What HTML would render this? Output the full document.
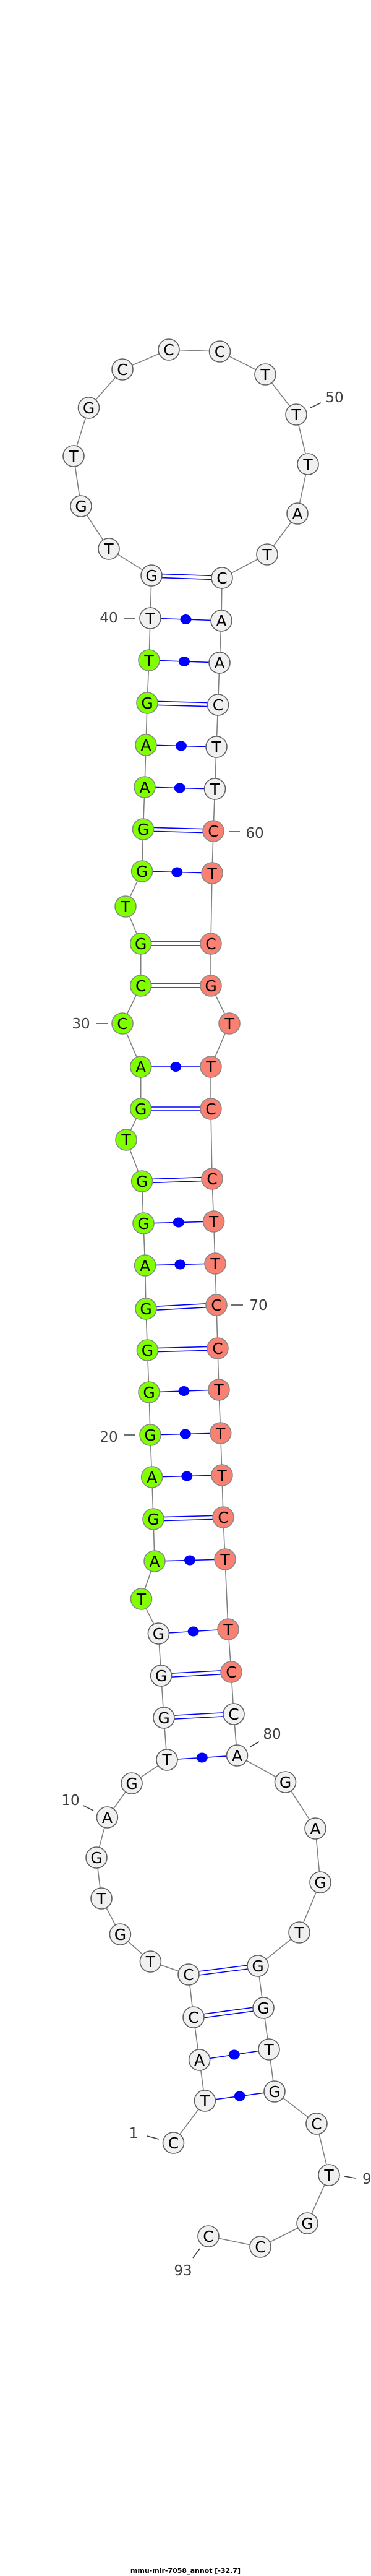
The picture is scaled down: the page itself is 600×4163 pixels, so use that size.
<!DOCTYPE html>
<html><head><meta charset="utf-8"><style>
html,body{margin:0;padding:0;background:#fff;}
svg{display:block;}
.bb{fill:none;stroke:#808080;stroke-width:1.6;}
.w{fill:#f0f0f0;stroke:#606060;stroke-width:1.6;}
.g{fill:#7fff00;stroke:#888;stroke-width:1.6;}
.r{fill:#fa8072;stroke:#888;stroke-width:1.6;}
.p{stroke:#0000ff;stroke-width:1.6;}
.d{fill:#0000ff;}
.n{font-family:"DejaVu Sans","Liberation Sans",sans-serif;font-size:25px;text-anchor:middle;fill:#000;}
.l{font-family:"DejaVu Sans","Liberation Sans",sans-serif;font-size:23px;text-anchor:middle;fill:#404040;}
.t{stroke:#404040;stroke-width:1.6;}
</style></head><body>
<svg width="600" height="4163" viewBox="0 0 600 4163" xmlns="http://www.w3.org/2000/svg">
<polyline class="bb" points="280.5,3463 331.4,3395 322.6,3329 313,3260 305,3191 243.4,3170 194.4,3126 164,3068 156,3002 173.4,2937 213,2882 270,2844 265,2776 260.6,2708 256.4,2640 228.5,2584 250,2523 248,2455 245.7,2387 243,2319 241,2250 238.4,2182 236,2115 234.6,2045 232,1977 229.6,1909 204,1842 227.7,1792 227.7,1724 198,1654 227.7,1593 227.7,1525 203,1465 229.6,1408 231.5,1340 234,1272 236,1204 238,1136 241,1067 243,999 245,930 176,887 131,818 119,737 143.5,659 198,597 273,565 355.5,568 429,605 479,670 498,750 481,830 432,896 359,934 358,1003 355,1071 352.5,1139 350,1207 347.5,1275 345,1343 343,1411 341,1525 341,1593 371,1654 341,1724 341,1792 343,1905 345.6,1974 348,2042 350,2109 352,2179 354,2246 356.7,2316 359,2384 361,2452 364,2520 369,2633 374,2702 378,2770 383.5,2837 461.5,2880 510,2955 518,3042 484,3123 417,3177 426,3245 435,3312 444,3380 512,3432 532,3515 497,3593 421,3631 337,3614"/>
<g class="p">
<line x1="313" y1="3257" x2="426" y2="3242"/><line x1="313" y1="3263" x2="426" y2="3248"/>
<line x1="305" y1="3188" x2="417" y2="3174"/><line x1="305" y1="3194" x2="417" y2="3180"/>
<line x1="265" y1="2773" x2="378" y2="2767"/><line x1="265" y1="2779" x2="378" y2="2773"/>
<line x1="260.6" y1="2705" x2="374" y2="2699"/><line x1="260.6" y1="2711" x2="374" y2="2705"/>
<line x1="248" y1="2452" x2="361" y2="2449"/><line x1="248" y1="2458" x2="361" y2="2455"/>
<line x1="238.4" y1="2179" x2="352" y2="2176"/><line x1="238.4" y1="2185" x2="352" y2="2182"/>
<line x1="236" y1="2112" x2="350" y2="2106"/><line x1="236" y1="2118" x2="350" y2="2112"/>
<line x1="229.6" y1="1906" x2="343" y2="1902"/><line x1="229.6" y1="1912" x2="343" y2="1908"/>
<line x1="227.7" y1="1789" x2="341" y2="1789"/><line x1="227.7" y1="1795" x2="341" y2="1795"/>
<line x1="227.7" y1="1590" x2="341" y2="1590"/><line x1="227.7" y1="1596" x2="341" y2="1596"/>
<line x1="227.7" y1="1522" x2="341" y2="1522"/><line x1="227.7" y1="1528" x2="341" y2="1528"/>
<line x1="231.5" y1="1337" x2="345" y2="1340"/><line x1="231.5" y1="1343" x2="345" y2="1346"/>
<line x1="238" y1="1133" x2="352.5" y2="1136"/><line x1="238" y1="1139" x2="352.5" y2="1142"/>
<line x1="245" y1="927" x2="359" y2="931"/><line x1="245" y1="933" x2="359" y2="937"/>
</g>
<g class="p">
<line x1="331.4" y1="3395" x2="444" y2="3380"/>
<line x1="322.6" y1="3329" x2="435" y2="3312"/>
<line x1="270" y1="2844" x2="383.5" y2="2837"/>
<line x1="256.4" y1="2640" x2="369" y2="2633"/>
<line x1="250" y1="2523" x2="364" y2="2520"/>
<line x1="245.7" y1="2387" x2="359" y2="2384"/>
<line x1="243" y1="2319" x2="356.7" y2="2316"/>
<line x1="241" y1="2250" x2="354" y2="2246"/>
<line x1="234.6" y1="2045" x2="348" y2="2042"/>
<line x1="232" y1="1977" x2="345.6" y2="1974"/>
<line x1="227.7" y1="1724" x2="341" y2="1724"/>
<line x1="229.6" y1="1408" x2="343" y2="1411"/>
<line x1="234" y1="1272" x2="347.5" y2="1275"/>
<line x1="236" y1="1204" x2="350" y2="1207"/>
<line x1="241" y1="1067" x2="355" y2="1071"/>
<line x1="243" y1="999" x2="358" y2="1003"/>
</g>
<g class="d">
<ellipse cx="387.7" cy="3387.5" rx="9" ry="8"/>
<ellipse cx="378.8" cy="3320.5" rx="9" ry="8"/>
<ellipse cx="326.8" cy="2840.5" rx="9" ry="8"/>
<ellipse cx="312.7" cy="2636.5" rx="9" ry="8"/>
<ellipse cx="307" cy="2521.5" rx="9" ry="8"/>
<ellipse cx="302.3" cy="2385.5" rx="9" ry="8"/>
<ellipse cx="299.8" cy="2317.5" rx="9" ry="8"/>
<ellipse cx="297.5" cy="2248" rx="9" ry="8"/>
<ellipse cx="291.3" cy="2043.5" rx="9" ry="8"/>
<ellipse cx="288.8" cy="1975.5" rx="9" ry="8"/>
<ellipse cx="284.3" cy="1724" rx="9" ry="8"/>
<ellipse cx="286.3" cy="1409.5" rx="9" ry="8"/>
<ellipse cx="290.8" cy="1273.5" rx="9" ry="8"/>
<ellipse cx="293" cy="1205.5" rx="9" ry="8"/>
<ellipse cx="298" cy="1069" rx="9" ry="8"/>
<ellipse cx="300.5" cy="1001" rx="9" ry="8"/>
</g>
<g>
<circle class="w" cx="280.5" cy="3463" r="17"/><text class="n" x="280.5" y="3472">C</text>
<circle class="w" cx="331.4" cy="3395" r="17"/><text class="n" x="331.4" y="3404">T</text>
<circle class="w" cx="322.6" cy="3329" r="17"/><text class="n" x="322.6" y="3338">A</text>
<circle class="w" cx="313" cy="3260" r="17"/><text class="n" x="313" y="3269">C</text>
<circle class="w" cx="305" cy="3191" r="17"/><text class="n" x="305" y="3200">C</text>
<circle class="w" cx="243.4" cy="3170" r="17"/><text class="n" x="243.4" y="3179">T</text>
<circle class="w" cx="194.4" cy="3126" r="17"/><text class="n" x="194.4" y="3135">G</text>
<circle class="w" cx="164" cy="3068" r="17"/><text class="n" x="164" y="3077">T</text>
<circle class="w" cx="156" cy="3002" r="17"/><text class="n" x="156" y="3011">G</text>
<circle class="w" cx="173.4" cy="2937" r="17"/><text class="n" x="173.4" y="2946">A</text>
<circle class="w" cx="213" cy="2882" r="17"/><text class="n" x="213" y="2891">G</text>
<circle class="w" cx="270" cy="2844" r="17"/><text class="n" x="270" y="2853">T</text>
<circle class="w" cx="265" cy="2776" r="17"/><text class="n" x="265" y="2785">G</text>
<circle class="w" cx="260.6" cy="2708" r="17"/><text class="n" x="260.6" y="2717">G</text>
<circle class="w" cx="256.4" cy="2640" r="17"/><text class="n" x="256.4" y="2649">G</text>
<circle class="g" cx="228.5" cy="2584" r="17"/><text class="n" x="228.5" y="2593">T</text>
<circle class="g" cx="250" cy="2523" r="17"/><text class="n" x="250" y="2532">A</text>
<circle class="g" cx="248" cy="2455" r="17"/><text class="n" x="248" y="2464">G</text>
<circle class="g" cx="245.7" cy="2387" r="17"/><text class="n" x="245.7" y="2396">A</text>
<circle class="g" cx="243" cy="2319" r="17"/><text class="n" x="243" y="2328">G</text>
<circle class="g" cx="241" cy="2250" r="17"/><text class="n" x="241" y="2259">G</text>
<circle class="g" cx="238.4" cy="2182" r="17"/><text class="n" x="238.4" y="2191">G</text>
<circle class="g" cx="236" cy="2115" r="17"/><text class="n" x="236" y="2124">G</text>
<circle class="g" cx="234.6" cy="2045" r="17"/><text class="n" x="234.6" y="2054">A</text>
<circle class="g" cx="232" cy="1977" r="17"/><text class="n" x="232" y="1986">G</text>
<circle class="g" cx="229.6" cy="1909" r="17"/><text class="n" x="229.6" y="1918">G</text>
<circle class="g" cx="204" cy="1842" r="17"/><text class="n" x="204" y="1851">T</text>
<circle class="g" cx="227.7" cy="1792" r="17"/><text class="n" x="227.7" y="1801">G</text>
<circle class="g" cx="227.7" cy="1724" r="17"/><text class="n" x="227.7" y="1733">A</text>
<circle class="g" cx="198" cy="1654" r="17"/><text class="n" x="198" y="1663">C</text>
<circle class="g" cx="227.7" cy="1593" r="17"/><text class="n" x="227.7" y="1602">C</text>
<circle class="g" cx="227.7" cy="1525" r="17"/><text class="n" x="227.7" y="1534">G</text>
<circle class="g" cx="203" cy="1465" r="17"/><text class="n" x="203" y="1474">T</text>
<circle class="g" cx="229.6" cy="1408" r="17"/><text class="n" x="229.6" y="1417">G</text>
<circle class="g" cx="231.5" cy="1340" r="17"/><text class="n" x="231.5" y="1349">G</text>
<circle class="g" cx="234" cy="1272" r="17"/><text class="n" x="234" y="1281">A</text>
<circle class="g" cx="236" cy="1204" r="17"/><text class="n" x="236" y="1213">A</text>
<circle class="g" cx="238" cy="1136" r="17"/><text class="n" x="238" y="1145">G</text>
<circle class="g" cx="241" cy="1067" r="17"/><text class="n" x="241" y="1076">T</text>
<circle class="w" cx="243" cy="999" r="17"/><text class="n" x="243" y="1008">T</text>
<circle class="w" cx="245" cy="930" r="17"/><text class="n" x="245" y="939">G</text>
<circle class="w" cx="176" cy="887" r="17"/><text class="n" x="176" y="896">T</text>
<circle class="w" cx="131" cy="818" r="17"/><text class="n" x="131" y="827">G</text>
<circle class="w" cx="119" cy="737" r="17"/><text class="n" x="119" y="746">T</text>
<circle class="w" cx="143.5" cy="659" r="17"/><text class="n" x="143.5" y="668">G</text>
<circle class="w" cx="198" cy="597" r="17"/><text class="n" x="198" y="606">C</text>
<circle class="w" cx="273" cy="565" r="17"/><text class="n" x="273" y="574">C</text>
<circle class="w" cx="355.5" cy="568" r="17"/><text class="n" x="355.5" y="577">C</text>
<circle class="w" cx="429" cy="605" r="17"/><text class="n" x="429" y="614">T</text>
<circle class="w" cx="479" cy="670" r="17"/><text class="n" x="479" y="679">T</text>
<circle class="w" cx="498" cy="750" r="17"/><text class="n" x="498" y="759">T</text>
<circle class="w" cx="481" cy="830" r="17"/><text class="n" x="481" y="839">A</text>
<circle class="w" cx="432" cy="896" r="17"/><text class="n" x="432" y="905">T</text>
<circle class="w" cx="359" cy="934" r="17"/><text class="n" x="359" y="943">C</text>
<circle class="w" cx="358" cy="1003" r="17"/><text class="n" x="358" y="1012">A</text>
<circle class="w" cx="355" cy="1071" r="17"/><text class="n" x="355" y="1080">A</text>
<circle class="w" cx="352.5" cy="1139" r="17"/><text class="n" x="352.5" y="1148">C</text>
<circle class="w" cx="350" cy="1207" r="17"/><text class="n" x="350" y="1216">T</text>
<circle class="w" cx="347.5" cy="1275" r="17"/><text class="n" x="347.5" y="1284">T</text>
<circle class="r" cx="345" cy="1343" r="17"/><text class="n" x="345" y="1352">C</text>
<circle class="r" cx="343" cy="1411" r="17"/><text class="n" x="343" y="1420">T</text>
<circle class="r" cx="341" cy="1525" r="17"/><text class="n" x="341" y="1534">C</text>
<circle class="r" cx="341" cy="1593" r="17"/><text class="n" x="341" y="1602">G</text>
<circle class="r" cx="371" cy="1654" r="17"/><text class="n" x="371" y="1663">T</text>
<circle class="r" cx="341" cy="1724" r="17"/><text class="n" x="341" y="1733">T</text>
<circle class="r" cx="341" cy="1792" r="17"/><text class="n" x="341" y="1801">C</text>
<circle class="r" cx="343" cy="1905" r="17"/><text class="n" x="343" y="1914">C</text>
<circle class="r" cx="345.6" cy="1974" r="17"/><text class="n" x="345.6" y="1983">T</text>
<circle class="r" cx="348" cy="2042" r="17"/><text class="n" x="348" y="2051">T</text>
<circle class="r" cx="350" cy="2109" r="17"/><text class="n" x="350" y="2118">C</text>
<circle class="r" cx="352" cy="2179" r="17"/><text class="n" x="352" y="2188">C</text>
<circle class="r" cx="354" cy="2246" r="17"/><text class="n" x="354" y="2255">T</text>
<circle class="r" cx="356.7" cy="2316" r="17"/><text class="n" x="356.7" y="2325">T</text>
<circle class="r" cx="359" cy="2384" r="17"/><text class="n" x="359" y="2393">T</text>
<circle class="r" cx="361" cy="2452" r="17"/><text class="n" x="361" y="2461">C</text>
<circle class="r" cx="364" cy="2520" r="17"/><text class="n" x="364" y="2529">T</text>
<circle class="r" cx="369" cy="2633" r="17"/><text class="n" x="369" y="2642">T</text>
<circle class="r" cx="374" cy="2702" r="17"/><text class="n" x="374" y="2711">C</text>
<circle class="w" cx="378" cy="2770" r="17"/><text class="n" x="378" y="2779">C</text>
<circle class="w" cx="383.5" cy="2837" r="17"/><text class="n" x="383.5" y="2846">A</text>
<circle class="w" cx="461.5" cy="2880" r="17"/><text class="n" x="461.5" y="2889">G</text>
<circle class="w" cx="510" cy="2955" r="17"/><text class="n" x="510" y="2964">A</text>
<circle class="w" cx="518" cy="3042" r="17"/><text class="n" x="518" y="3051">G</text>
<circle class="w" cx="484" cy="3123" r="17"/><text class="n" x="484" y="3132">T</text>
<circle class="w" cx="417" cy="3177" r="17"/><text class="n" x="417" y="3186">G</text>
<circle class="w" cx="426" cy="3245" r="17"/><text class="n" x="426" y="3254">G</text>
<circle class="w" cx="435" cy="3312" r="17"/><text class="n" x="435" y="3321">T</text>
<circle class="w" cx="444" cy="3380" r="17"/><text class="n" x="444" y="3389">G</text>
<circle class="w" cx="512" cy="3432" r="17"/><text class="n" x="512" y="3441">C</text>
<circle class="w" cx="532" cy="3515" r="17"/><text class="n" x="532" y="3524">T</text>
<circle class="w" cx="497" cy="3593" r="17"/><text class="n" x="497" y="3602">G</text>
<circle class="w" cx="421" cy="3631" r="17"/><text class="n" x="421" y="3640">C</text>
<circle class="w" cx="337" cy="3614" r="17"/><text class="n" x="337" y="3623">C</text>
</g>
<g>
<line class="t" x1="238" y1="3452" x2="257" y2="3457"/><text class="l" x="216" y="3455">1</text>
<line class="t" x1="134.7" y1="2918" x2="151" y2="2926"/><text class="l" x="114" y="2917">10</text>
<line class="t" x1="200" y1="2319" x2="219" y2="2319"/><text class="l" x="176" y="2330">20</text>
<line class="t" x1="156" y1="1654" x2="174" y2="1654"/><text class="l" x="131" y="1662">30</text>
<line class="t" x1="201" y1="999" x2="219" y2="999"/><text class="l" x="176" y="1006">40</text>
<line class="t" x1="502" y1="659" x2="519" y2="651"/><text class="l" x="541" y="650">50</text>
<line class="t" x1="371" y1="1344" x2="388" y2="1344"/><text class="l" x="412" y="1354">60</text>
<line class="t" x1="374" y1="2109" x2="393" y2="2109"/><text class="l" x="418" y="2117">70</text>
<line class="t" x1="404.5" y1="2823" x2="419" y2="2815"/><text class="l" x="440" y="2810">80</text>
<line class="t" x1="557" y1="3517" x2="575" y2="3520"/><text class="l" x="586" y="3529" style="text-anchor:start">90</text>
<line class="t" x1="323" y1="3634" x2="312" y2="3649"/><text class="l" x="296" y="3677">93</text>
</g>
<text x="300" y="4158" style="font-family:'DejaVu Sans','Liberation Sans',sans-serif;font-size:11px;font-weight:bold;text-anchor:middle;fill:#000">mmu-mir-7058_annot [-32.7]</text>
</svg>
</body></html>
